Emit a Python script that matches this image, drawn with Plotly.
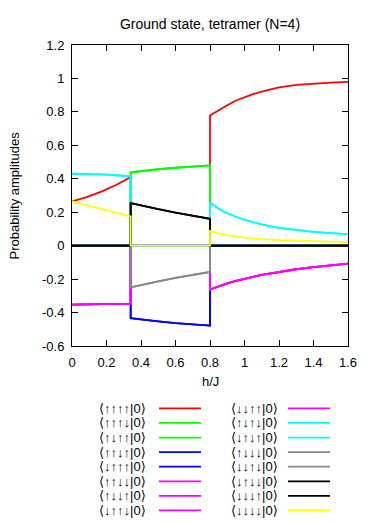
import plotly.graph_objects as go

# ---- data ----
h = [0, 0.085, 0.17, 0.255, 0.34,
     0.34, 0.4, 0.5, 0.6, 0.7, 0.8,
     0.8, 0.82, 0.84, 0.86, 0.88, 0.9, 0.95, 1.0, 1.05, 1.1, 1.2, 1.3, 1.4, 1.5, 1.6]

red_vals = [0.265, 0.290, 0.323, 0.363, 0.410,
            0, 0, 0, 0, 0, 0,
            0.778, 0.791, 0.804, 0.816, 0.828, 0.840, 0.868, 0.888, 0.906, 0.921,
            0.946, 0.961, 0.970, 0.975, 0.979]
green_vals = [0, 0, 0, 0, 0,
              0.438, 0.446, 0.457, 0.466, 0.474, 0.480,
              0, 0, 0, 0, 0, 0, 0, 0, 0, 0, 0, 0, 0, 0, 0]
blue_vals = [0, 0, 0, 0, 0,
             -0.434, -0.442, -0.453, -0.463, -0.471, -0.478,
             0, 0, 0, 0, 0, 0, 0, 0, 0, 0, 0, 0, 0, 0, 0]
magenta_vals = [-0.352, -0.351, -0.350, -0.348, -0.346,
                0, 0, 0, 0, 0, 0,
                -0.262, -0.254, -0.246, -0.239, -0.232, -0.226, -0.211, -0.197, -0.186, -0.175,
                -0.157, -0.141, -0.128, -0.117, -0.107]
cyan_vals = [0.430, 0.429, 0.426, 0.421, 0.414,
             0, 0, 0, 0, 0, 0,
             0.257, 0.242, 0.228, 0.215, 0.204, 0.194, 0.173, 0.155, 0.140, 0.127,
             0.107, 0.093, 0.082, 0.075, 0.069]
gray_vals = [0, 0, 0, 0, 0,
             -0.249, -0.235, -0.213, -0.193, -0.175, -0.157,
             0, 0, 0, 0, 0, 0, 0, 0, 0, 0, 0, 0, 0, 0, 0]
black_vals = [0, 0, 0, 0, 0,
              0.255, 0.240, 0.218, 0.198, 0.179, 0.161,
              0, 0, 0, 0, 0, 0, 0, 0, 0, 0, 0, 0, 0, 0, 0]
yellow_vals = [0.265, 0.242, 0.219, 0.197, 0.175,
               0, 0, 0, 0, 0, 0,
               0.088, 0.081, 0.075, 0.070, 0.066, 0.062, 0.055, 0.048, 0.043, 0.039,
               0.033, 0.029, 0.026, 0.023, 0.021]

state_labels = ["⟨↑↑↑↑|0⟩", "⟨↑↑↑↓|0⟩", "⟨↑↓↑↑|0⟩", "⟨↑↑↓↑|0⟩",
                "⟨↓↑↑↑|0⟩", "⟨↑↑↓↓|0⟩", "⟨↑↓↓↑|0⟩", "⟨↓↑↑↓|0⟩",
                "⟨↓↓↑↑|0⟩", "⟨↑↓↑↓|0⟩", "⟨↓↑↓↑|0⟩", "⟨↑↓↓↓|0⟩",
                "⟨↓↓↑↓|0⟩", "⟨↓↑↓↓|0⟩", "⟨↓↓↓↑|0⟩", "⟨↓↓↓↓|0⟩"]
state_groups = ["red", "green", "green", "blue", "blue", "magenta", "magenta", "magenta",
                "magenta", "cyan", "cyan", "gray", "gray", "black", "black", "yellow"]

x_ticks = [0, 0.2, 0.4, 0.6, 0.8, 1.0, 1.2, 1.4, 1.6]
x_ticktext = ["0", "0.2", "0.4", "0.6", "0.8", "1", "1.2", "1.4", "1.6"]
y_ticks = [-0.6, -0.4, -0.2, 0, 0.2, 0.4, 0.6, 0.8, 1.0, 1.2]
y_ticktext = ["-0.6", "-0.4", "-0.2", "0", "0.2", "0.4", "0.6", "0.8", "1", "1.2"]

# ---- styling ----
group_values = {"red": red_vals, "green": green_vals, "blue": blue_vals,
                "magenta": magenta_vals, "cyan": cyan_vals, "gray": gray_vals,
                "black": black_vals, "yellow": yellow_vals}
group_colors = {"red": "#ff0000", "green": "#00ff00", "blue": "#0000ff",
                "magenta": "#ff00ff", "cyan": "#00ffff", "gray": "#888888",
                "black": "#000000", "yellow": "#ffff00"}

W, H = 375, 525
L, R, T, B = 72, 348, 45, 346.5
FONT = "Liberation Sans, Arial, sans-serif"

fig = go.Figure()
for lab, grp in zip(state_labels, state_groups):
    fig.add_trace(go.Scatter(x=h, y=group_values[grp], mode="lines", name=lab,
                             line=dict(color=group_colors[grp], width=1.8),
                             showlegend=False))

def px2paper_x(px):
    return (px - L) / (R - L)

def px2paper_y(py):
    return (B - py) / (B - T)

# legend (gnuplot style: text then line sample), two columns of 8
row_y0, row_dy = 409, 14.6
cols = [(148, 159, 201), (280, 288, 330)]
for i, (lab, grp) in enumerate(zip(state_labels, state_groups)):
    c = i // 8
    r = i % 8
    tx, lx0, lx1 = cols[c]
    yy = px2paper_y(row_y0 + r * row_dy)
    fig.add_annotation(x=px2paper_x(tx), y=yy, xref="paper", yref="paper",
                       text=lab, showarrow=False, xanchor="right", yanchor="middle",
                       font=dict(family="Liberation Sans, DejaVu Sans", size=13, color="#000000"))
    fig.add_shape(type="line", xref="paper", yref="paper",
                  x0=px2paper_x(lx0), x1=px2paper_x(lx1), y0=yy, y1=yy,
                  line=dict(color=group_colors[grp], width=1.8))

# y-axis title
fig.add_annotation(x=px2paper_x(14), y=px2paper_y((T + B) / 2), xref="paper", yref="paper",
                   text="Probability amplitudes", textangle=-90, showarrow=False,
                   xanchor="center", yanchor="middle",
                   font=dict(family=FONT, size=13, color="black"))
# x-axis title
fig.add_annotation(x=0.5, y=px2paper_y(382), xref="paper", yref="paper",
                   text="h/J", showarrow=False, xanchor="center", yanchor="middle",
                   font=dict(family=FONT, size=13, color="black"))

axis_common = dict(showline=True, linecolor="black", linewidth=1, mirror="ticks",
                   ticks="inside", ticklen=6, tickcolor="black", tickwidth=1,
                   showgrid=False, zeroline=False,
                   tickfont=dict(family=FONT, size=13, color="black"))

fig.update_layout(
    width=W, height=H,
    margin=dict(l=L, r=W - R, t=T, b=H - B),
    paper_bgcolor="white", plot_bgcolor="white",
    title=dict(text="Ground state, tetramer (N=4)", x=(L + R) / 2 / W,
               xanchor="center", y=1 - 24 / H, yanchor="middle",
               font=dict(family=FONT, size=14, color="black")),
    xaxis=dict(range=[0, 1.6], tickvals=x_ticks, ticktext=x_ticktext,
               ticklabelstandoff=4, **axis_common),
    yaxis=dict(range=[-0.6, 1.2], tickvals=y_ticks, ticktext=y_ticktext,
               ticklabelstandoff=4, **axis_common),
    showlegend=False,
)

fig.write_html("out.html")
